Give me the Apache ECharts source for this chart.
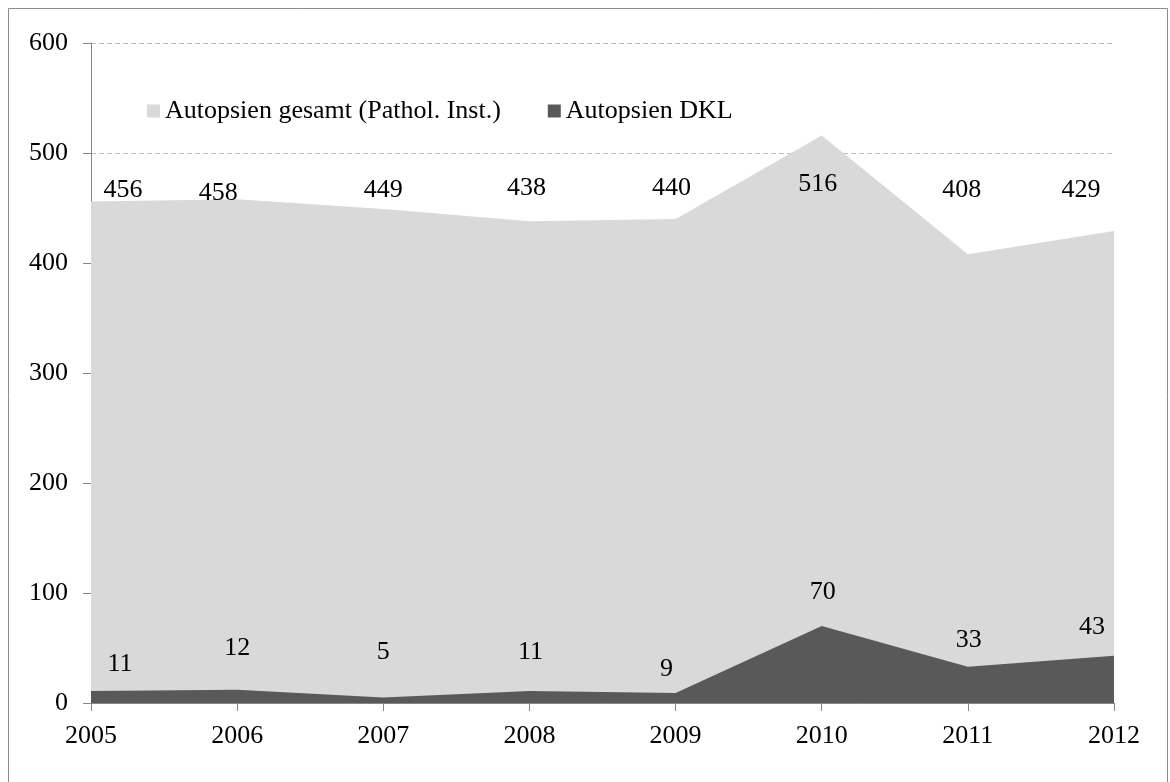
<!DOCTYPE html>
<html>
<head>
<meta charset="utf-8">
<script src="https://cdn.jsdelivr.net/npm/echarts@6/dist/echarts.min.js"></script>
<style>
  html, body { margin: 0; padding: 0; background: #fff; }
  #chart { width: 1170px; height: 782px; }
</style>
</head>
<body>
<div id="chart"></div>
<script>
// Daten
var years = ['2005', '2006', '2007', '2008', '2009', '2010', '2011', '2012'];
var gesamt = [456, 458, 449, 438, 440, 516, 408, 429];
var dkl = [11, 12, 5, 11, 9, 70, 33, 43];

// Lage der Beschriftungen (px, relativ zum Datenpunkt)
var gesamtLabelShift = [[32, -11], [-19, -6], [0, -19], [-3, -33], [-4, -31], [-4, 49], [-6, -64], [-33, -41]];
var dklLabelShift = [[29, -27], [0, -42], [0, -45], [1, -39], [-9, -24], [1, -34], [1, -27], [-22, -29]];

var font = "'Liberation Serif', 'Times New Roman', serif";

function withLabels(values, shifts) {
    return values.map(function (v, i) {
        return { value: v, label: { offset: shifts[i] } };
    });
}

var chart = echarts.init(document.getElementById('chart'));
chart.setOption({
    animation: false,
    backgroundColor: '#fff',
    textStyle: { fontFamily: font },
    graphic: [{
        type: 'rect',
        shape: { x: 8.5, y: 8.5, width: 1159, height: 800 },
        style: { fill: 'none', stroke: '#8c8c8c', lineWidth: 1 },
        silent: true
    }],
    legend: {
        left: 142,
        top: 93,
        icon: 'rect',
        itemWidth: 13,
        itemHeight: 13,
        itemGap: 47,
        textStyle: { fontFamily: font, fontSize: 26, color: '#000' },
        data: ['Autopsien gesamt (Pathol. Inst.)', 'Autopsien DKL']
    },
    grid: { left: 91, right: 56, top: 43, bottom: 79, containLabel: false },
    xAxis: {
        type: 'category',
        data: years,
        boundaryGap: false,
        axisLine: { lineStyle: { color: '#868686', width: 1 } },
        axisTick: { show: true, length: 8, alignWithLabel: true, lineStyle: { color: '#868686' } },
        axisLabel: { fontFamily: font, fontSize: 26, color: '#000', margin: 20 },
        splitLine: { show: false }
    },
    yAxis: {
        type: 'value',
        min: 0,
        max: 600,
        interval: 100,
        axisLine: { show: true, lineStyle: { color: '#868686', width: 1 } },
        axisTick: { show: true, length: 8, lineStyle: { color: '#868686' } },
        axisLabel: { fontFamily: font, fontSize: 26, color: '#000', margin: 23 },
        splitLine: { show: true, lineStyle: { color: '#bdbdbd', type: [5, 3], width: 1 } }
    },
    series: [
        {
            name: 'Autopsien gesamt (Pathol. Inst.)',
            type: 'line',
            data: withLabels(gesamt, gesamtLabelShift),
            symbol: 'circle',
            symbolSize: 0.1,
            itemStyle: { color: '#d9d9d9' },
            lineStyle: { width: 0 },
            areaStyle: { color: '#d9d9d9', opacity: 1 },
            label: {
                show: true,
                position: 'inside',
                fontFamily: font,
                fontSize: 26,
                color: '#000'
            },
            z: 2
        },
        {
            name: 'Autopsien DKL',
            type: 'line',
            data: withLabels(dkl, dklLabelShift),
            symbol: 'circle',
            symbolSize: 0.1,
            itemStyle: { color: '#595959' },
            lineStyle: { width: 0 },
            areaStyle: { color: '#595959', opacity: 1 },
            label: {
                show: true,
                position: 'inside',
                fontFamily: font,
                fontSize: 26,
                color: '#000'
            },
            z: 3
        }
    ]
});
</script>
</body>
</html>
